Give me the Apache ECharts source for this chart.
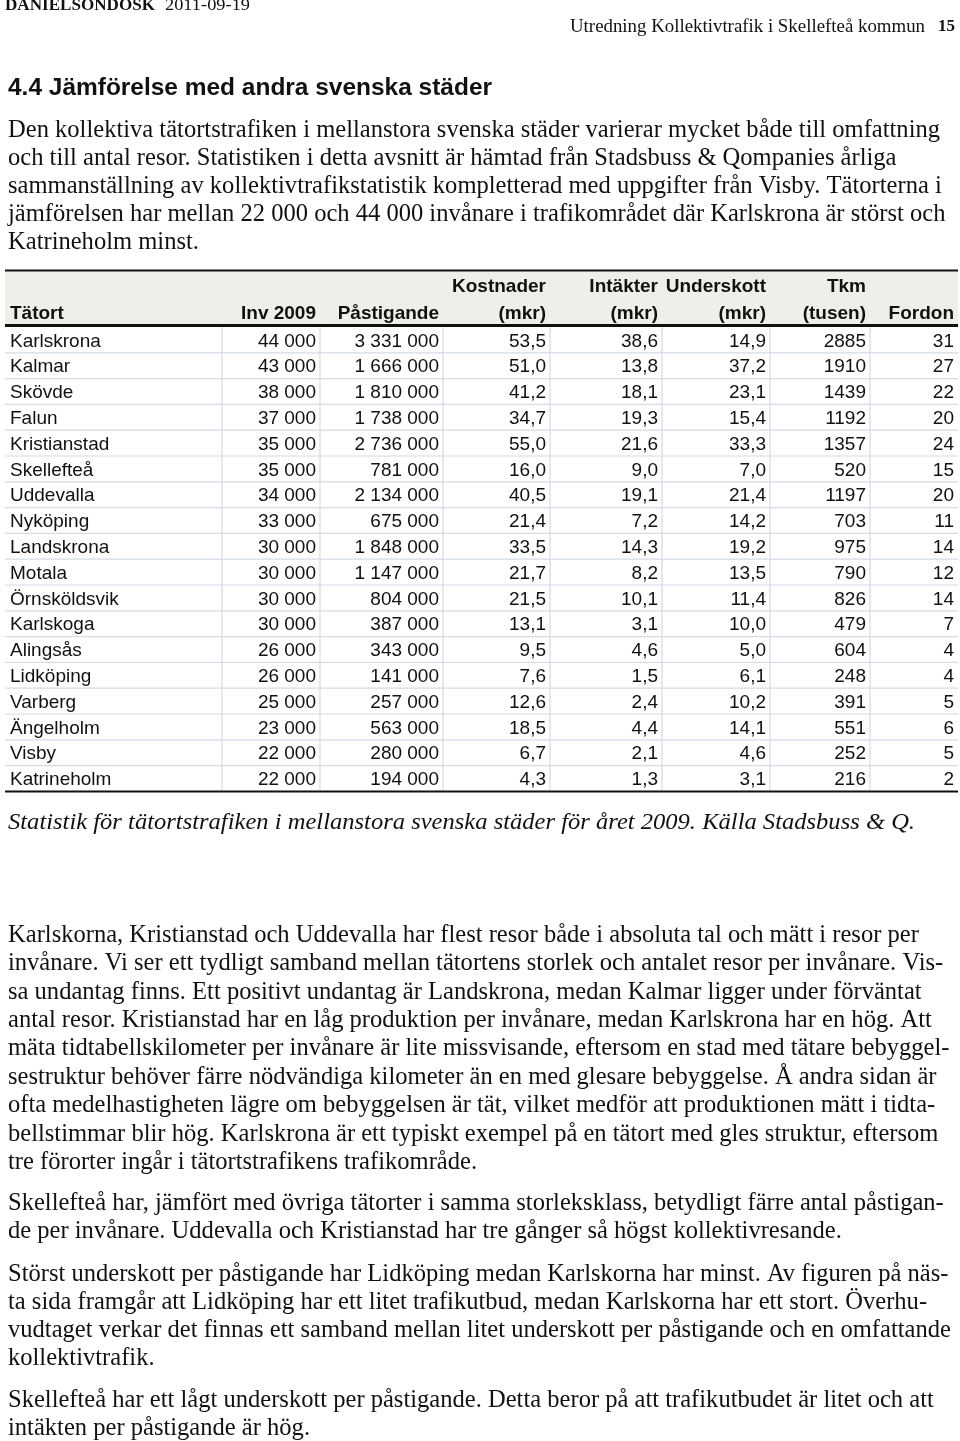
<!DOCTYPE html>
<html><head><meta charset="utf-8">
<script src="https://cdn.jsdelivr.net/npm/echarts@6/dist/echarts.min.js"></script>
<style>html,body{margin:0;padding:0;background:#fff}#c{width:960px;height:1441px}</style>
</head><body><div id="c"></div>
<script>
// ---------- DATA ----------
const cities = ['Karlskrona','Kalmar','Skövde','Falun','Kristianstad','Skellefteå','Uddevalla','Nyköping','Landskrona','Motala','Örnsköldsvik','Karlskoga','Alingsås','Lidköping','Varberg','Ängelholm','Visby','Katrineholm'];
const inv2009 = [44000,43000,38000,37000,35000,35000,34000,33000,30000,30000,30000,30000,26000,26000,25000,23000,22000,22000];
const pastigande = [3331000,1666000,1810000,1738000,2736000,781000,2134000,675000,1848000,1147000,804000,387000,343000,141000,257000,563000,280000,194000];
const kostnader = [53.5,51.0,41.2,34.7,55.0,16.0,40.5,21.4,33.5,21.7,21.5,13.1,9.5,7.6,12.6,18.5,6.7,4.3];
const intakter = [38.6,13.8,18.1,19.3,21.6,9.0,19.1,7.2,14.3,8.2,10.1,3.1,4.6,1.5,2.4,4.4,2.1,1.3];
const underskott = [14.9,37.2,23.1,15.4,33.3,7.0,21.4,14.2,19.2,13.5,11.4,10.0,5.0,6.1,10.2,14.1,4.6,3.1];
const tkm = [2885,1910,1439,1192,1357,520,1197,703,975,790,826,479,604,248,391,551,252,216];
const fordon = [31,27,22,20,24,15,20,11,14,12,14,7,4,4,5,6,5,2];
const headerTop = ['', '', '', 'Kostnader', 'Intäkter', 'Underskott', 'Tkm', ''];
const headerBottom = ['Tätort', 'Inv 2009', 'Påstigande', '(mkr)', '(mkr)', '(mkr)', '(tusen)', 'Fordon'];

const pageHeadLeftBold = 'DANIELSONDOSK';
const pageHeadDate = '2011-09-19';
const pageHeadRight = 'Utredning Kollektivtrafik i Skellefteå kommun';
const pageNumber = '15';
const sectionTitle = '4.4 Jämförelse med andra svenska städer';
const caption = 'Statistik för tätortstrafiken i mellanstora svenska städer för året 2009. Källa Stadsbuss & Q.';
const para1 = [
 'Den kollektiva tätortstrafiken i mellanstora svenska städer varierar mycket både till omfattning',
 'och till antal resor. Statistiken i detta avsnitt är hämtad från Stadsbuss & Qompanies årliga',
 'sammanställning av kollektivtrafikstatistik kompletterad med uppgifter från Visby. Tätorterna i',
 'jämförelsen har mellan 22 000 och 44 000 invånare i trafikområdet där Karlskrona är störst och',
 'Katrineholm minst.'
];
const para2 = [
 'Karlskorna, Kristianstad och Uddevalla har flest resor både i absoluta tal och mätt i resor per',
 'invånare. Vi ser ett tydligt samband mellan tätortens storlek och antalet resor per invånare. Vis-',
 'sa undantag finns. Ett positivt undantag är Landskrona, medan Kalmar ligger under förväntat',
 'antal resor. Kristianstad har en låg produktion per invånare, medan Karlskrona har en hög. Att',
 'mäta tidtabellskilometer per invånare är lite missvisande, eftersom en stad med tätare bebyggel-',
 'sestruktur behöver färre nödvändiga kilometer än en med glesare bebyggelse. Å andra sidan är',
 'ofta medelhastigheten lägre om bebyggelsen är tät, vilket medför att produktionen mätt i tidta-',
 'bellstimmar blir hög. Karlskrona är ett typiskt exempel på en tätort med gles struktur, eftersom',
 'tre förorter ingår i tätortstrafikens trafikområde.'
];
const para3 = [
 'Skellefteå har, jämfört med övriga tätorter i samma storleksklass, betydligt färre antal påstigan-',
 'de per invånare. Uddevalla och Kristianstad har tre gånger så högst kollektivresande.'
];
const para4 = [
 'Störst underskott per påstigande har Lidköping medan Karlskorna har minst. Av figuren på näs-',
 'ta sida framgår att Lidköping har ett litet trafikutbud, medan Karlskorna har ett stort. Överhu-',
 'vudtaget verkar det finnas ett samband mellan litet underskott per påstigande och en omfattande',
 'kollektivtrafik.'
];
const para5 = [
 'Skellefteå har ett lågt underskott per påstigande. Detta beror på att trafikutbudet är litet och att',
 'intäkten per påstigande är hög.'
];

// ---------- LAYOUT / STYLE ----------
const COL_EDGES = [5, 222, 320, 443, 550, 662, 770, 870, 958];
const INK = '#111111';
const GRIDLINE = '#d4dbe3';
const HEAD_BG = '#efeee8';
const TABLE_FONT = '"Liberation Sans", Arial, sans-serif';
const SERIF = '"Liberation Serif", "Times New Roman", serif';

const fmtThousands = n => String(n).replace(/\B(?=(\d{3})+(?!\d))/g, ' ');
const fmtDec = n => n.toFixed(1).replace('.', ',');
const cellText = i => [cities[i], fmtThousands(inv2009[i]), fmtThousands(pastigande[i]),
  fmtDec(kostnader[i]), fmtDec(intakter[i]), fmtDec(underskott[i]), String(tkm[i]), String(fordon[i])];

const mctx = document.createElement('canvas').getContext('2d');
function measure(str, size, family, weight, style) {
  mctx.font = (style || 'normal') + ' ' + (weight || 'normal') + ' ' + size + 'px ' + family;
  return mctx.measureText(str).width;
}
function txt(str, x, y, size, family, weight, style, scaleX, align) {
  return {
    type: 'text', x: x, y: y, scaleX: scaleX || 1, silent: true,
    style: { text: str, x: 0, y: 0, fill: INK, fontSize: size, fontFamily: family,
      fontWeight: weight || 'normal', fontStyle: style || 'normal',
      align: align || 'left', verticalAlign: 'middle' }
  };
}

const graphics = [];
// page header
graphics.push(txt(pageHeadLeftBold, 5, 6, 17, SERIF, 'bold', 'normal', 150 / measure(pageHeadLeftBold, 17, SERIF, 'bold')));
graphics.push(txt(pageHeadDate, 165, 6, 17, SERIF, 'normal', 'normal', 85 / measure(pageHeadDate, 17, SERIF)));
graphics.push(txt(pageHeadRight, 570, 27, 18, SERIF, 'normal', 'normal', 355 / measure(pageHeadRight, 18, SERIF)));
graphics.push(txt(pageNumber, 955, 27, 17, SERIF, 'bold', 'normal', 1, 'right'));
// section title
graphics.push(txt(sectionTitle, 8, 88, 24, TABLE_FONT, 'bold', 'normal', 484 / measure(sectionTitle, 24, TABLE_FONT, 'bold')));
// body paragraphs
const BODY_SIZE = 25.5;
const bodyScale = 932 / measure(para1[0], BODY_SIZE, SERIF);
function addPara(lines, y0, lh) {
  lines.forEach((l, k) => graphics.push(txt(l, 8, y0 + k * lh, BODY_SIZE, SERIF, 'normal', 'normal', bodyScale)));
}
addPara(para1, 130, 28);
addPara(para2, 935, 28.4);
addPara(para3, 1203, 28.2);
addPara(para4, 1274, 28.2);
addPara(para5, 1400, 28.2);
// caption
graphics.push(txt(caption, 8, 823, 23, SERIF, 'normal', 'italic', 907 / measure(caption, 23, SERIF, 'normal', 'italic')));

// ---------- TABLE via custom series ----------
function renderItem(params, api) {
  const i = params.dataIndex;
  const n = cities.length;
  const c = api.coord([COL_EDGES[0], i]);
  const h = api.size([0, 1])[1];
  const yc = c[1], yTop = yc - h / 2, yBot = yc + h / 2;
  const xs = COL_EDGES.map(e => api.coord([e, i])[0]);
  const ch = [];
  if (i < n - 1) ch.push({ type: 'line', shape: { x1: xs[0], y1: yBot, x2: xs[8], y2: yBot }, style: { stroke: GRIDLINE, lineWidth: 1.2 } });
  for (let k = 1; k < 8; k++) ch.push({ type: 'line', shape: { x1: xs[k], y1: yTop, x2: xs[k], y2: yBot }, style: { stroke: GRIDLINE, lineWidth: 1.2 } });
  const vals = cellText(i);
  vals.forEach((v, k) => {
    const left = k === 0;
    ch.push({ type: 'text', style: { text: v, x: left ? xs[0] + 5 : xs[k + 1] - 4, y: yc + 1.5,
      align: left ? 'left' : 'right', verticalAlign: 'middle', fill: INK, fontSize: 19, fontFamily: TABLE_FONT } });
  });
  if (i === 0) {
    ch.push({ type: 'rect', shape: { x: xs[0], y: yTop - 56, width: xs[8] - xs[0], height: 55 }, style: { fill: HEAD_BG } });
    ch.push({ type: 'line', shape: { x1: xs[0], y1: yTop - 56.5, x2: xs[8], y2: yTop - 56.5 }, style: { stroke: INK, lineWidth: 2 } });
    ch.push({ type: 'line', shape: { x1: xs[0], y1: yTop - 1.5, x2: xs[8], y2: yTop - 1.5 }, style: { stroke: INK, lineWidth: 3 } });
    for (let k = 0; k < 8; k++) {
      const left = k === 0;
      const tx = left ? xs[0] + 5 : xs[k + 1] - 4;
      if (headerTop[k]) ch.push({ type: 'text', style: { text: headerTop[k], x: tx, y: yTop - 40, align: left ? 'left' : 'right', verticalAlign: 'middle', fill: INK, fontSize: 19, fontWeight: 'bold', fontFamily: TABLE_FONT } });
      ch.push({ type: 'text', style: { text: headerBottom[k], x: tx, y: yTop - 13, align: left ? 'left' : 'right', verticalAlign: 'middle', fill: INK, fontSize: 19, fontWeight: 'bold', fontFamily: TABLE_FONT } });
    }
  }
  if (i === n - 1) {
    ch.push({ type: 'line', shape: { x1: xs[0], y1: yBot, x2: xs[8], y2: yBot }, style: { stroke: INK, lineWidth: 2 } });
  }
  return { type: 'group', children: ch };
}

const chart = echarts.init(document.getElementById('c'), null, { renderer: 'canvas' });
chart.setOption({
  animation: false,
  backgroundColor: '#ffffff',
  grid: { left: 5, right: 2, top: 327, height: 464.4, containLabel: false },
  xAxis: { type: 'value', min: COL_EDGES[0], max: COL_EDGES[COL_EDGES.length - 1], show: false },
  yAxis: { type: 'category', data: cities, inverse: true, show: false },
  series: [{
    type: 'custom', clip: false, silent: true,
    data: cities.map((c, i) => [COL_EDGES[0], i]),
    encode: { x: 0, y: 1 },
    renderItem: renderItem
  }],
  graphic: graphics
});
</script>
</body></html>
